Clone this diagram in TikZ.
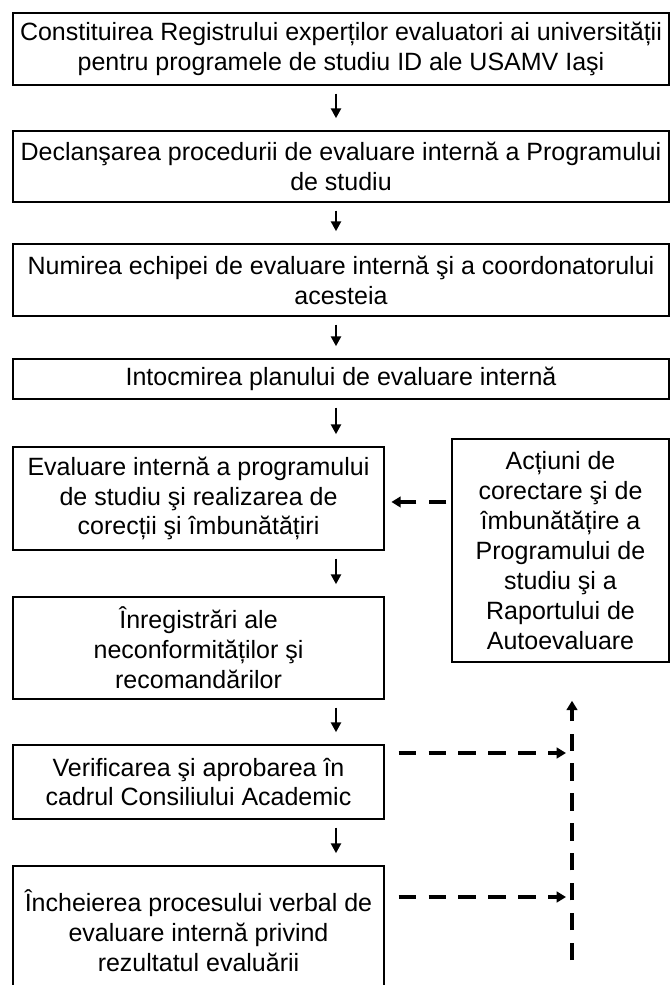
\documentclass[tikz,border=0pt]{standalone}
\usepackage{fontspec}
\setmainfont{Liberation Sans}
\usetikzlibrary{arrows.meta}

\tikzset{every picture/.style={line width=0.75pt}}
\tikzset{
  stage/.style={draw=black, line width=1.1pt, align=center, inner sep=2pt,
    font=\fontsize{18.75}{22.4}\selectfont},
  flow/.style={line width=2pt, -{Triangle[width=7.5pt,length=7.5pt]},
    shorten <=6pt, shorten >=9pt},
  back/.style={line width=3pt, dash pattern=on 13pt off 9.4pt,
    -{Triangle[width=8pt,length=7pt]}}
}

\begin{document}
\begin{tikzpicture}[x=0.75pt,y=0.75pt,yscale=-1,xscale=1]
\useasboundingbox (0,0) rectangle (671,985);

% Main column
\node[stage, minimum width=492pt, minimum height=54pt] (reg) at (341,49)
  {Constituirea Registrului experților evaluatori ai universității\\pentru programele de studiu ID ale USAMV Iaşi};
\node[stage, minimum width=492pt, minimum height=53.25pt] (decl) at (341,166.5)
  {Declanşarea procedurii de evaluare internă a Programului\\de studiu};
\node[stage, minimum width=492pt, minimum height=54pt] (echipa) at (341,280)
  {Numirea echipei de evaluare internă şi a coordonatorului\\acesteia};
\node[stage, minimum width=492pt, minimum height=30pt] (plan) at (341,379)
  {Intocmirea planului de evaluare internă};
\node[stage, minimum width=278.25pt, minimum height=77.25pt] (eval) at (198.5,498.5)
  {Evaluare internă a programului\\de studiu şi realizarea de\\corecții şi îmbunătățiri};
\node[stage, minimum width=278.25pt, minimum height=76.5pt] (inreg) at (198.5,648)
  {Înregistrări ale\\neconformităților şi\\recomandărilor};
\node[stage, minimum width=278.25pt, minimum height=55.5pt] (verif) at (198.5,782)
  {Verificarea şi aprobarea în\\cadrul Consiliului Academic};
\node[stage, minimum width=278.25pt, minimum height=97.5pt] (proces) at (198.5,931)
  {Încheierea procesului verbal de\\evaluare internă privind\\rezultatul evaluării};

% Side box
\node[stage, minimum width=162.75pt, minimum height=167.25pt] (actiuni) at (560.5,550.5)
  {Acțiuni de\\corectare şi de\\îmbunătățire a\\Programului de\\studiu şi a\\Raportului de\\Autoevaluare};

% Arrows down
\coordinate (ax) at (336,0);
\draw[flow] (reg.south -| ax) -- (decl.north -| ax);
\draw[flow] (decl.south -| ax) -- (echipa.north -| ax);
\draw[flow] (echipa.south -| ax) -- (plan.north -| ax);
\draw[flow] (plan.south -| ax) -- (eval.north -| ax);
\draw[flow] (eval.south -| ax) -- (inreg.north -| ax);
\draw[flow] (inreg.south -| ax) -- (verif.north -| ax);
\draw[flow] (verif.south -| ax) -- (proces.north -| ax);

% Feedback (dashed)
\path ([yshift=2.6pt]eval.east) coordinate (e5);
\draw[back, shorten <=3.75pt, shorten >=5pt] (actiuni.west |- e5) -- (e5);
\coordinate (h1) at (566,753);
\coordinate (h2) at (566,897);
\draw[back, shorten <=10.5pt] (verif.east |- h1) -- (h1);
\draw[back, shorten <=10.5pt] (proces.east |- h2) -- (h2);
\coordinate (vb) at (572,960);
\draw[back, shorten >=28.5pt] (vb) -- (actiuni.south -| vb);

\end{tikzpicture}
\end{document}
